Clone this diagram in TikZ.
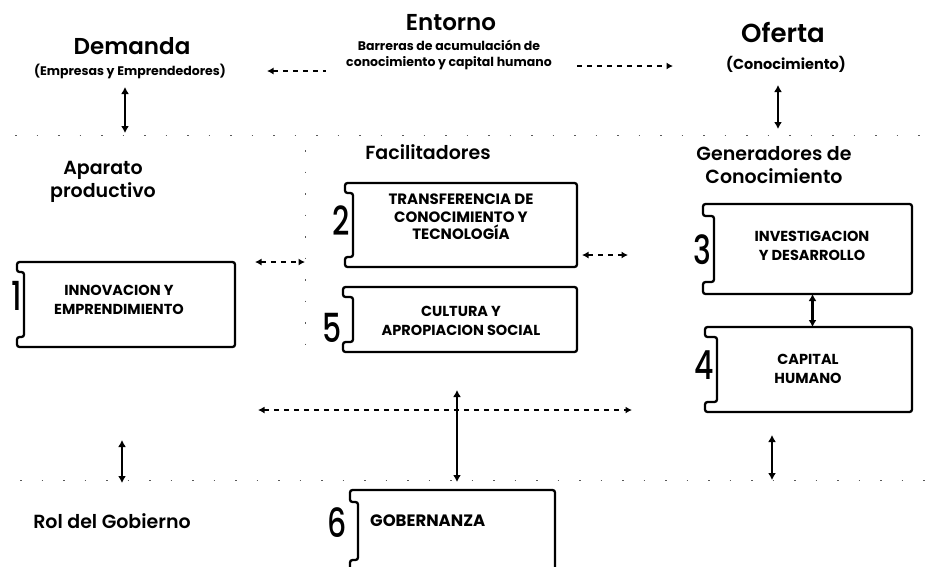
\documentclass[tikz,border=0pt]{standalone}
\usepackage{fontspec}
\setmainfont{Poppins}
\IfFontExistsTF{Poppins SemiBold}{\newfontfamily\semib{Poppins SemiBold}}{\newcommand{\semib}{\bfseries}}
\IfFontExistsTF{Poppins Medium}{\newfontfamily\medf{Poppins Medium}}{\newcommand{\medf}{\mdseries}}
\usetikzlibrary{arrows.meta,calc}
\tikzset{
  mytip/.tip={Latex[length=6.5pt,width=7pt]},
  boxline/.style={line width=2.3pt, rounded corners=2.5pt, line join=round},
  boxarea/.style={inner sep=0pt, outer sep=0pt, draw=none},
  boxtext/.style={inner sep=0pt, align=center, font=\bfseries\fontsize{14.5}{18.5}\selectfont},
  head/.style={inner sep=0pt, font=\semib\fontsize{23}{26}\selectfont},
  subhead/.style={inner sep=0pt, align=center, font=\semib\fontsize{19}{23}\selectfont},
  small/.style={inner sep=0pt, align=center, font=\bfseries\fontsize{12.5}{16}\selectfont},
  num/.style={inner sep=0pt, anchor=east, font=\medf\fontsize{40}{40}\selectfont},
  dashconn/.style={line width=2.3pt, dash pattern=on 5pt off 5pt},
  solidconn/.style={line width=2.8pt, {Latex[length=7pt,width=8pt]}-{Latex[length=7pt,width=8pt]}},
  faint/.style={line width=0.9pt, dash pattern=on 1.5pt off 20pt, black!65}
}
\newcommand{\notchbox}[3]{% node name, notch depth, tab height
  \draw[boxline] (#1.north east) -- (#1.north west) -- ++(0,#3) -- ++(#2,0)
    -- ($(#1.south west)+(#2,-#3)$) -- ++(-#2,0) -- (#1.south west) -- (#1.south east) -- cycle;}
\begin{document}
\begin{tikzpicture}[x=1pt,y=-1pt]
\useasboundingbox[fill=white] (0,0) rectangle (935,566);

% faint grid remnants
\coordinate (g1) at (15,135); \coordinate (g2) at (935,135);
\coordinate (g3) at (305,150); \coordinate (g4) at (305,352);
\coordinate (g5) at (20,480); \coordinate (g6) at (935,480);
\draw[faint] (g1) -- (g2);
\draw[faint] (g3) -- (g4);
\draw[faint] (g5) -- (g6);

% top headings
\node[head] (dem) at (132,46) {Demanda};
\node[small] (demsub) at (130,71) {(Empresas y Emprendedores)};
\node[head] (ent) at (451,23) {Entorno};
\node[small] (entsub) at (449,55) {Barreras de acumulación de\\conocimiento y capital humano};
\node[head, font=\semib\fontsize{26}{28}\selectfont] (ofe) at (783,32) {Oferta};
\node[small, font=\bfseries\fontsize{14.5}{16}\selectfont] (ofesub) at (786,64) {(Conocimiento)};

\coordinate (la1) at (267,71); \coordinate (la2) at (326,71);
\draw[dashconn, {mytip}-] (la1) -- (la2);
\coordinate (ra1) at (577,66); \coordinate (ra2) at (673,66);
\draw[dashconn, -{mytip}] (ra1) -- (ra2);

\coordinate (da1) at (125,87); \coordinate (da2) at (125,133);
\draw[solidconn] (da1) -- (da2);
\coordinate (oa1) at (778,85); \coordinate (oa2) at (778,129);
\draw[solidconn] (oa1) -- (oa2);

% second level headings
\node[subhead] (apa) at (103,182) {Aparato\\productivo};
\node[subhead] (fac) at (428,152) {Facilitadores};
\node[subhead, align=center] (gen) at (774,165) {Generadores de\\Conocimiento};

% boxes
\node[boxarea, minimum width=218pt, minimum height=85pt] (b1) at (126,304.5) {};
\notchbox{b1}{7}{10}
\node[num] (n1) at (22,296) {\scalebox{0.75}[1]{1}};
\node[boxtext] (t1) at (119,300) {INNOVACION Y\\EMPRENDIMIENTO};

\node[boxarea, minimum width=232pt, minimum height=84pt] (b2) at (461,225) {};
\notchbox{b2}{8}{10}
\node[num] (n2) at (350,221) {\scalebox{0.75}[1]{2}};
\node[boxtext, font=\bfseries\fontsize{15}{17.5}\selectfont] (t2) at (461,217) {TRANSFERENCIA DE\\CONOCIMIENTO Y\\TECNOLOGÍA};

\node[boxarea, minimum width=234pt, minimum height=65pt] (b5) at (460,319.5) {};
\notchbox{b5}{10}{10}
\node[num] (n5) at (342,328) {\scalebox{0.75}[1]{5}};
\node[boxtext] (t5) at (461,321) {CULTURA Y\\APROPIACION SOCIAL};

\node[boxarea, minimum width=209pt, minimum height=90pt] (b3) at (807.5,249) {};
\notchbox{b3}{11}{12}
\node[num] (n3) at (712,250) {\scalebox{0.75}[1]{3}};
\node[boxtext] (t3) at (812,246) {INVESTIGACION\\Y DESARROLLO};

\node[boxarea, minimum width=207pt, minimum height=85pt] (b4) at (808.5,369.5) {};
\notchbox{b4}{12}{10}
\node[num] (n4) at (714,365) {\scalebox{0.75}[1]{4}};
\node[boxtext] (t4) at (808,369) {CAPITAL\\HUMANO};

\node[boxarea, minimum width=205pt, minimum height=82pt] (b6) at (452.5,531) {};
\notchbox{b6}{8}{12}
\node[num] (n6) at (347,523) {\scalebox{0.75}[1]{6}};
\node[boxtext, anchor=west, font=\bfseries\fontsize{16.5}{19}\selectfont] (t6) at (370,521) {GOBERNANZA};

\node[subhead] (rol) at (112,521) {Rol del Gobierno};

% mid connectors
\coordinate (ma1) at (255,262); \coordinate (ma2) at (305,262);
\draw[dashconn, {mytip}-{mytip}] (ma1) -- (ma2);
\coordinate (mb1) at (582,255); \coordinate (mb2) at (628,255);
\draw[dashconn, {mytip}-{mytip}] (mb1) -- (mb2);
\draw[solidconn] ($(b3.south)+(5,0)$) -- ($(b4.north)+(4,0)$);

% bottom connectors
\coordinate (h1) at (258,410); \coordinate (h2) at (632,410);
\draw[dashconn, {mytip}-{mytip}] (h1) -- (h2);
\coordinate (v1) at (457,390); \coordinate (v2) at (457,482);
\draw[solidconn] (v1) -- (v2);
\coordinate (lb1) at (122,440); \coordinate (lb2) at (122,483);
\draw[solidconn] (lb1) -- (lb2);
\coordinate (rb1) at (772,435); \coordinate (rb2) at (772,480);
\draw[solidconn] (rb1) -- (rb2);
\end{tikzpicture}
\end{document}
